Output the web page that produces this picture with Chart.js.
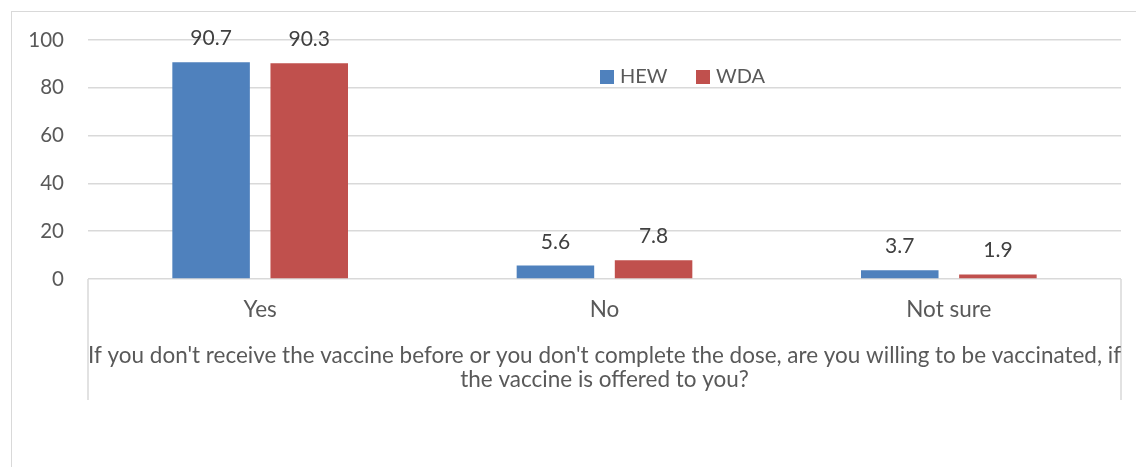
<!DOCTYPE html>
<html>
<head>
<meta charset="utf-8">
<script src="https://cdn.jsdelivr.net/npm/chart.js@4/dist/chart.umd.min.js"></script>
<style>
  html, body { margin: 0; padding: 0; background: #ffffff; }
  #wrap { width: 1136px; height: 467px; position: relative; }
</style>
</head>
<body>
<div id="wrap"><canvas id="c"></canvas></div>
<script>
// Survey answers, percent of respondents
const categories = ['Yes', 'No', 'Not sure'];
const hewValues = [90.7, 5.6, 3.7];
const wdaValues = [90.3, 7.8, 1.9];
const seriesNames = ['HEW', 'WDA'];
const seriesColors = ['#4F81BD', '#C0504D'];
const yTicks = [0, 20, 40, 60, 80, 100];
const axisTitle = [
  "If you don't receive the vaccine before or you don't complete the dose, are you willing to be vaccinated, if",
  "the vaccine is offered to you?"
];

const FONT = 'Lato, "Open Sans", sans-serif';
const TEXT = '#595959';
const GRID = '#d9d9d9';

// Outer frame and the bracket lines framing the category band
const framePlugin = {
  id: 'frame',
  beforeDraw(chart) {
    const { ctx, chartArea, scales } = chart;
    ctx.save();
    ctx.strokeStyle = GRID;
    ctx.lineWidth = 1;
    ctx.strokeRect(11.5, 11.5, chart.width + 40, chart.height + 40);
    const x = scales.x;
    ctx.lineWidth = 1.5;
    ctx.beginPath();
    ctx.moveTo(x.left, chartArea.bottom);
    ctx.lineTo(x.left, chartArea.bottom + 121);
    ctx.moveTo(x.right, chartArea.bottom);
    ctx.lineTo(x.right, chartArea.bottom + 121);
    ctx.stroke();
    ctx.restore();
  }
};

// Value labels above each bar
const valueLabels = {
  id: 'valueLabels',
  afterDatasetsDraw(chart) {
    const { ctx } = chart;
    ctx.save();
    ctx.font = '21px ' + FONT;
    ctx.fillStyle = '#404040';
    ctx.textAlign = 'center';
    ctx.textBaseline = 'alphabetic';
    chart.data.datasets.forEach((ds, i) => {
      chart.getDatasetMeta(i).data.forEach((bar, j) => {
        ctx.fillText(String(ds.data[j]), bar.x, bar.y - 17);
      });
    });
    ctx.restore();
  }
};

// Legend inside the plot area
const insideLegend = {
  id: 'insideLegend',
  afterDraw(chart) {
    const { ctx } = chart;
    ctx.save();
    ctx.font = '20px ' + FONT;
    ctx.textAlign = 'left';
    ctx.textBaseline = 'alphabetic';
    let x = 600;
    chart.data.datasets.forEach((ds) => {
      ctx.fillStyle = ds.backgroundColor;
      ctx.fillRect(x, 70, 14, 14);
      ctx.fillStyle = TEXT;
      ctx.fillText(ds.label, x + 20, 83);
      x += 96;
    });
    ctx.restore();
  }
};

new Chart(document.getElementById('c'), {
  type: 'bar',
  data: {
    labels: categories,
    datasets: [
      { label: seriesNames[0], data: hewValues, backgroundColor: seriesColors[0] },
      { label: seriesNames[1], data: wdaValues, backgroundColor: seriesColors[1] }
    ]
  },
  options: {
    responsive: true,
    maintainAspectRatio: false,
    animation: false,
    layout: { padding: { top: 40, right: 15, left: 0, bottom: 0 } },
    datasets: { bar: { categoryPercentage: 0.57, barPercentage: 0.79 } },
    plugins: {
      legend: { display: false },
      tooltip: { enabled: false }
    },
    scales: {
      x: {
        grid: { display: false, drawTicks: false },
        border: { display: false },
        ticks: { color: TEXT, font: { family: FONT, size: 22.5, lineHeight: 24 / 22.5 }, padding: 19 },
        title: {
          display: true,
          text: axisTitle,
          color: TEXT,
          font: { family: FONT, size: 22.5, lineHeight: 24 / 22.5 },
          padding: { top: 0, bottom: 75 }
        },
        afterFit(scale) { scale.height = 188; }
      },
      y: {
        min: 0,
        max: 100,
        grid: { color: GRID, lineWidth: 1.5, drawTicks: false },
        border: { display: false },
        ticks: { color: TEXT, font: { family: FONT, size: 20.5 }, padding: 24 },
        afterBuildTicks(scale) { scale.ticks = yTicks.map(v => ({ value: v })); },
        afterFit(scale) { scale.width = 88; }
      }
    }
  },
  plugins: [framePlugin, valueLabels, insideLegend]
});
</script>
</body>
</html>
